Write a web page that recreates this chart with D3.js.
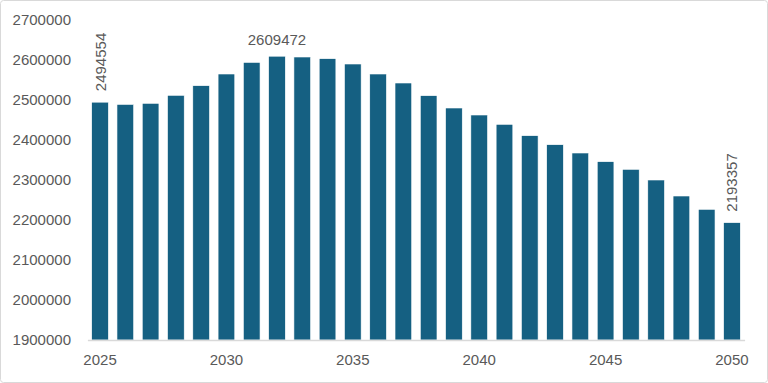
<!DOCTYPE html>
<html><head><meta charset="utf-8">
<script src="https://cdn.jsdelivr.net/npm/d3@7"></script>
<style>body{margin:0;background:#fff}svg{display:block}</style>
</head><body>
<script>
const years = d3.range(2025, 2051);
const values = [2494554, 2489000, 2491700, 2511700, 2535800, 2565000, 2594000, 2609472, 2607500, 2603300,
  2590000, 2565000, 2542500, 2510800, 2480000, 2462500, 2439200, 2410800, 2388250, 2367500,
  2345800, 2326700, 2300000, 2260000, 2226700, 2193357];
const yTicks = [1900000, 2000000, 2100000, 2200000, 2300000, 2400000, 2500000, 2600000, 2700000];
const xTickYears = [2025, 2030, 2035, 2040, 2045, 2050];
const rotatedLabelYears = [2025, 2050];
const flatLabelYears = [2032];

const W = 768, H = 383;
const svg = d3.select("body").append("svg").attr("width", W).attr("height", H);
svg.append("rect").attr("x", 0.5).attr("y", 0.5).attr("width", W - 1).attr("height", H - 1)
  .attr("rx", 3).attr("fill", "#fff").attr("stroke", "#d9d9d9");

const x = d3.scaleBand().domain(years).range([87.4, 744.6]).paddingInner(0.34).paddingOuter(0.17);
const y = d3.scaleLinear().domain([1900000, 2700000]).range([340, 20]);
const font = "'Liberation Sans', Arial, sans-serif";
const textColor = "#595959";

const yAxis = svg.append("g").attr("transform", "translate(78,0)")
  .call(d3.axisLeft(y).tickValues(yTicks).tickSize(0).tickPadding(7).tickFormat(d3.format("d")));
yAxis.select(".domain").remove();
yAxis.selectAll("text").attr("font-family", font).attr("font-size", 15).attr("fill", textColor);

svg.append("g").selectAll("rect").data(values).join("rect")
  .attr("x", (d, i) => x(years[i]))
  .attr("width", x.bandwidth())
  .attr("y", d => y(d))
  .attr("height", d => y(1900000) - y(d))
  .attr("fill", "#156082")
  .attr("stroke", "#ffffff").attr("stroke-width", 0.6);

const xAxis = svg.append("g").attr("transform", "translate(0,340)")
  .call(d3.axisBottom(x).tickValues(xTickYears).tickSize(0).tickPadding(14));
xAxis.select(".domain").attr("stroke", "#d9d9d9").attr("stroke-width", 1.3);
xAxis.selectAll("text").attr("font-family", font).attr("font-size", 15).attr("fill", textColor);

const cx = yr => x(yr) + x.bandwidth() / 2;
svg.append("g").selectAll("text").data(rotatedLabelYears).join("text")
  .attr("transform", yr => `translate(${cx(yr) + 5.5},${y(values[years.indexOf(yr)]) - 11}) rotate(-90)`)
  .attr("font-family", font).attr("font-size", 15).attr("fill", textColor)
  .text(yr => values[years.indexOf(yr)]);
svg.append("g").selectAll("text").data(flatLabelYears).join("text")
  .attr("x", cx).attr("y", yr => y(values[years.indexOf(yr)]) - 11)
  .attr("text-anchor", "middle")
  .attr("font-family", font).attr("font-size", 15).attr("fill", textColor)
  .text(yr => values[years.indexOf(yr)]);
</script>
</body></html>
